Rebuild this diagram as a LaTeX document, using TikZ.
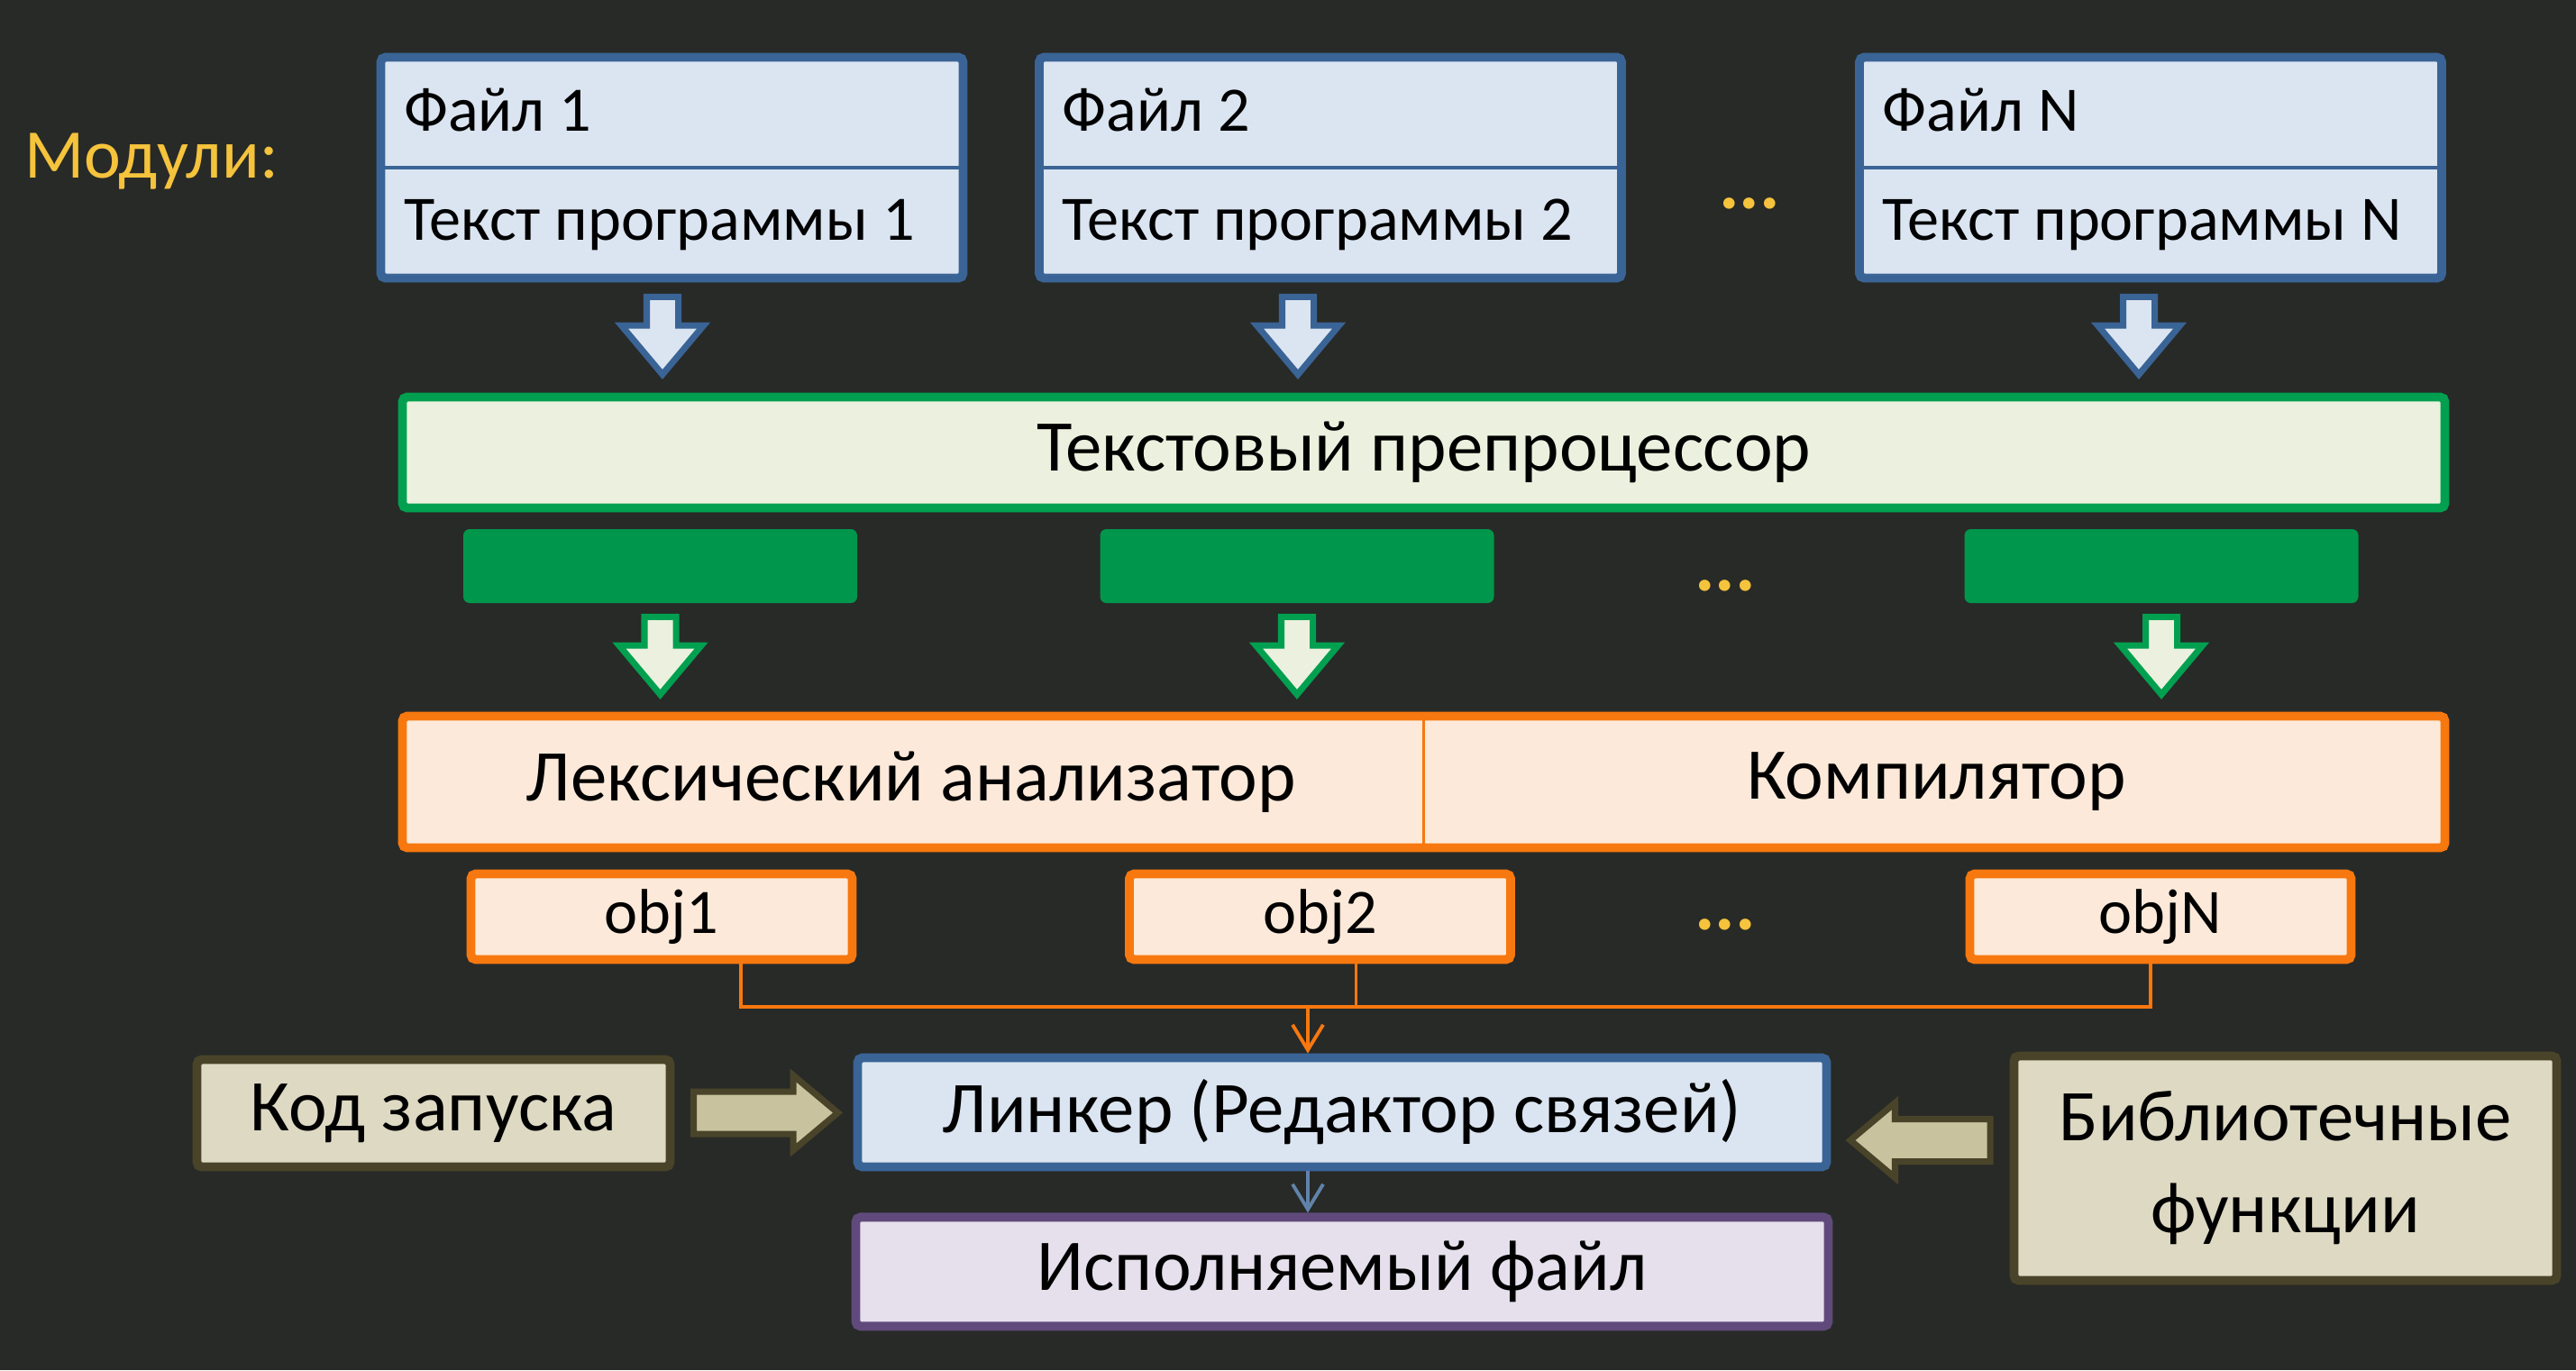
\documentclass[tikz,border=0pt]{standalone}
\usepackage{fontspec}
\setmainfont{Carlito}
\usetikzlibrary{
	positioning,   %relative placement
	calc,          %coordinate calculations
	arrows.meta,   %arrow tips
	shapes.arrows  %block arrows
}
\definecolor{bgdark}{RGB}{40,42,39}
\definecolor{modgold}{RGB}{245,195,60}
\definecolor{fileblue}{RGB}{58,100,150}
\definecolor{filefill}{RGB}{219,229,241}
\definecolor{pregreen}{RGB}{0,160,80}
\definecolor{prefill}{RGB}{235,241,222}
\definecolor{bargreen}{RGB}{0,150,75}
\definecolor{anorange}{RGB}{247,120,15}
\definecolor{anfill}{RGB}{253,233,217}
\definecolor{exepurple}{RGB}{96,74,123}
\definecolor{exefill}{RGB}{229,224,236}
\definecolor{oliveline}{RGB}{73,68,41}
\definecolor{olivefill}{RGB}{221,217,195}
\definecolor{olivearrow}{RGB}{200,194,158}
\tikzset{
	every picture/.style={
		>=latex,
		node distance=5mm and 5mm
}}

\begin{document}
\begin{tikzpicture}
\tikzstyle{filebox}=[rectangle, draw=fileblue, fill=filefill, line width=2.8pt, rounded corners=1.5pt, minimum width=6.46cm, minimum height=2.45cm]
\tikzstyle{prebox}=[rectangle, draw=pregreen, fill=prefill, line width=2.8pt, rounded corners=1.5pt, minimum width=22.66cm, minimum height=1.23cm, font=\fontsize{23}{28}\selectfont]
\tikzstyle{bar}=[rectangle, fill=bargreen, rounded corners=2pt, minimum width=4.37cm, minimum height=0.82cm]
\tikzstyle{anbox}=[rectangle, draw=anorange, fill=anfill, line width=2.8pt, rounded corners=1.5pt, minimum width=22.66cm, minimum height=1.46cm]
\tikzstyle{objbox}=[rectangle, draw=anorange, fill=anfill, line width=2.8pt, rounded corners=1.5pt, minimum width=4.23cm, minimum height=0.95cm, font=\fontsize{20}{24}\selectfont]
\tikzstyle{linkbox}=[rectangle, draw=fileblue, fill=filefill, line width=2.8pt, rounded corners=1.5pt, minimum width=10.75cm, minimum height=1.21cm, font=\fontsize{23}{28}\selectfont]
\tikzstyle{exebox}=[rectangle, draw=exepurple, fill=exefill, line width=2.8pt, rounded corners=1.5pt, minimum width=10.79cm, minimum height=1.21cm, font=\fontsize{23}{28}\selectfont]
\tikzstyle{olivebox}=[rectangle, draw=oliveline, fill=olivefill, line width=2.8pt, rounded corners=1.5pt, align=center, font=\fontsize{23}{29}\selectfont]
\tikzstyle{bigtext}=[inner sep=0pt, font=\fontsize{23}{28}\selectfont]
\tikzstyle{filetext}=[inner sep=0pt, anchor=west, font=\fontsize{20}{24}\selectfont]
\tikzstyle{dots}=[text=modgold, font=\fontsize{24}{28}\selectfont\bfseries]
\tikzstyle{bluedown}=[single arrow, draw=fileblue, fill=filefill, line width=2pt, shape border rotate=270, minimum height=0.86cm, minimum width=0.9cm, single arrow head extend=0.28cm, single arrow tip angle=80, inner sep=0.14cm]
\tikzstyle{greendown}=[bluedown, draw=pregreen, fill=prefill]
\tikzstyle{olivearr}=[single arrow, draw=oliveline, fill=olivearrow, line width=2pt, minimum width=0.8cm, single arrow head extend=0.18cm, single arrow tip angle=80, inner sep=0.2cm]
\tikzstyle{oline}=[anorange, line width=1.1pt]
\tikzstyle{connect}=[-{Straight Barb[length=0.28cm, width=0.34cm]}]

\fill[bgdark] (0,0) rectangle (28.58,-15.20);
\useasboundingbox (0,0) rectangle (28.58,-15.20);

% modules
\node[text=modgold, font=\fontsize{22}{26}\selectfont] (mod) at (1.68,-1.79) {Модули:};
\node[filebox] (f1) at (7.455,-1.86) {};
\node[filebox] (f2) at (14.76,-1.86) {};
\node[filebox] (fn) at (23.86,-1.86) {};
\node[dots] (dtop) at (19.41,-2.26) {...};
\foreach \f/\k in {f1/1, f2/2, fn/N} {
	\draw[fileblue, line width=1pt] (\f.west) -- (\f.east);
	\node[filetext] (\f head) at ([xshift=0.3cm]$(\f.north west)!0.5!(\f.west)$) {Файл \k};
	\node[filetext] (\f body) at ([xshift=0.3cm]$(\f.west)!0.5!(\f.south west)$) {Текст программы \k};
}

% preprocessor
\node[prebox] (pre) at (15.795,-5.02) {Текстовый препроцессор};
\foreach \x/\n in {7.35/1, 14.40/2, 23.73/3}
	\node[bluedown] (bd\n) at (\x,-3.62) {};
\node[bar] (g1) at (7.325,-6.28) {};
\node[bar] (g2) at (14.39,-6.28) {};
\node[bar] (gn) at (23.98,-6.28) {};
\node[dots] (dmid) at (19.14,-6.50) {...};
\foreach \g/\n in {g1/1, g2/2, gn/3}
	\node[greendown] (gd\n) at (\g |- 0,-7.17) {};

% analyzer and compiler
\node[anbox] (an) at (15.795,-8.675) {};
\draw[anorange, line width=1pt] (an.north) -- (an.south);
\node[bigtext] (lex) at ($(an.west)!0.5!(an.center)$) {Лексический анализатор};
\node[bigtext] (comp) at ($(an.center)!0.5!(an.east)$) {Компилятор};
\node[objbox] (o1) at (7.34,-10.17) {obj1};
\node[objbox] (o2) at (14.645,-10.17) {obj2};
\node[objbox] (on) at (23.97,-10.17) {objN};
\node[dots] (dbot) at (19.14,-10.26) {...};

% linker
\coordinate (bus) at (0,-11.17);
\node[linkbox] (link) at (14.89,-12.34) {Линкер (Редактор связей)};
\node[exebox] (exe) [below=0.46cm of link] {Исполняемый файл};
\node[olivebox, minimum width=5.25cm, minimum height=1.19cm] (kod) at (4.81,-12.35) {Код запуска};
\node[olivebox, minimum width=6.02cm, minimum height=2.49cm] (lib) at (25.355,-12.96) {Библиотечные\\функции};
\draw[oline] ([xshift=0.88cm]o1.south) -- ([xshift=0.88cm]o1.south |- bus) -- ([xshift=-0.11cm]on.south |- bus) -- ([xshift=-0.11cm]on.south);
\draw[oline] ([xshift=0.4cm]o2.south) -- ([xshift=0.4cm]o2.south |- bus);
\draw[oline, connect] ([xshift=-0.38cm]link.north |- bus) -- ([xshift=-0.38cm]link.north);
\draw[fileblue!80!white, line width=1.1pt, connect] ([xshift=-0.38cm]link.south) -- ([xshift=-0.38cm]link.south |- exe.north);
\node[olivearr, minimum height=1.6cm] (kodarr) at ([xshift=-0.12cm]$(kod.east)!0.5!(link.west)$) {};
\node[olivearr, minimum height=1.55cm, shape border rotate=180] (libarr) at ([xshift=0.14cm]$(lib.west)!0.5!(link.east)$) {};
\end{tikzpicture}
\end{document}
